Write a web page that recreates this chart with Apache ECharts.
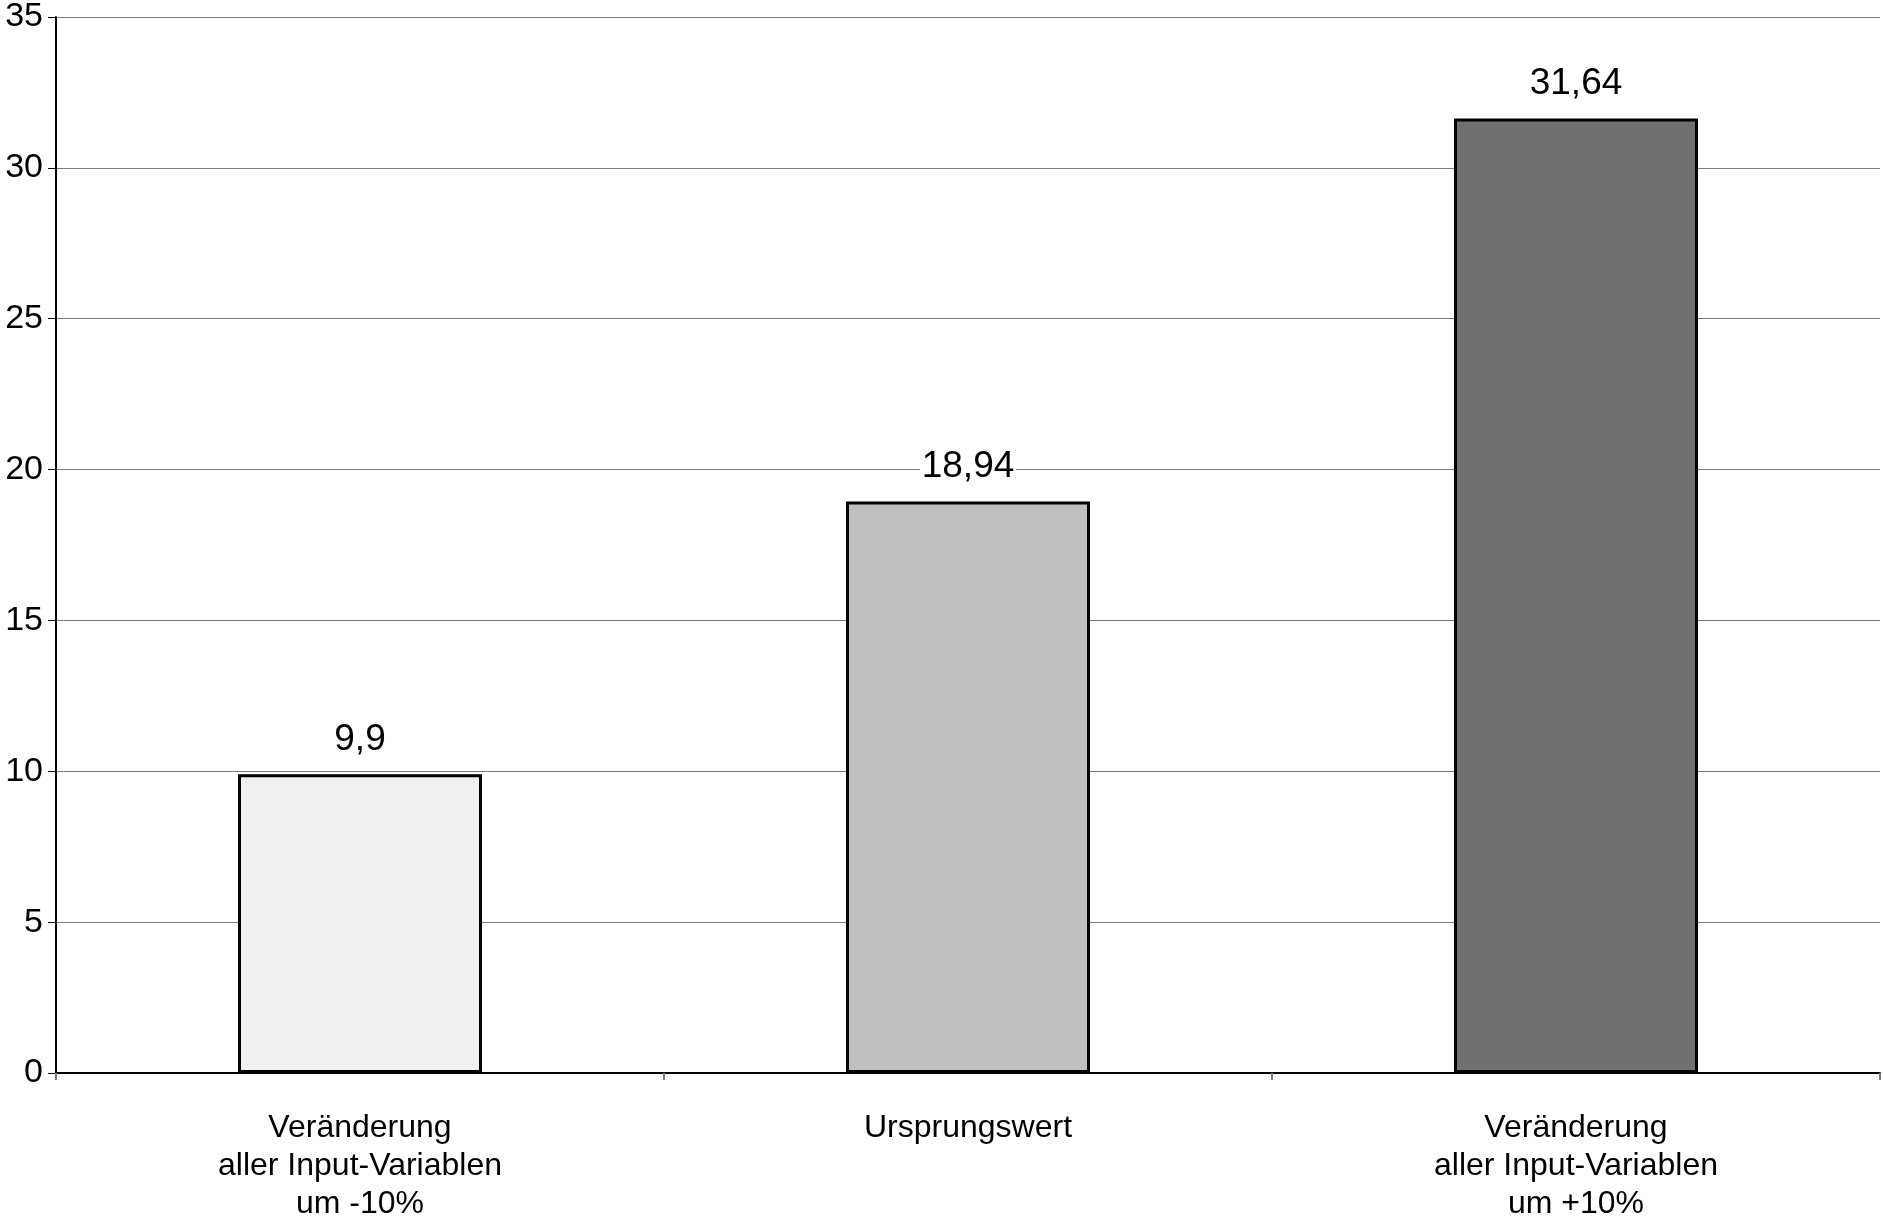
<!DOCTYPE html>
<html>
<head>
<meta charset="utf-8">
<script src="https://cdn.jsdelivr.net/npm/echarts@6/dist/echarts.min.js"></script>
<style>html,body{margin:0;padding:0;background:#fff}#c{width:1883px;height:1224px}</style>
</head>
<body>
<div id="c"></div>
<script>
const categories = ['Veränderung\naller Input-Variablen\num -10%', 'Ursprungswert', 'Veränderung\naller Input-Variablen\num +10%'];
const values = [9.9, 18.94, 31.64];
const barColors = ['#f0f0f0', '#c0c0c0', '#707070'];
const yTicks = [0, 5, 10, 15, 20, 25, 30, 35];

const chart = echarts.init(document.getElementById('c'));
chart.setOption({
  animation: false,
  backgroundColor: '#ffffff',
  textStyle: { fontFamily: 'Liberation Sans, Arial, sans-serif' },
  grid: { left: 56, right: 3, top: 12.5, bottom: 151, containLabel: false },
  xAxis: {
    type: 'category',
    data: categories,
    axisLine: { lineStyle: { color: '#000', width: 2 } },
    axisTick: { show: true, length: 7, lineStyle: { color: '#777', width: 2 } },
    axisLabel: { color: '#000', fontSize: 32, lineHeight: 38, margin: 36, fontFamily: 'Liberation Sans' },
    splitLine: { show: false }
  },
  yAxis: {
    type: 'value',
    min: yTicks[0],
    max: yTicks[yTicks.length - 1],
    interval: 5,
    axisLine: { show: true, lineStyle: { color: '#000', width: 2 } },
    axisTick: { show: true, length: 8, lineStyle: { color: '#000', width: 1 } },
    axisLabel: { color: '#000', fontSize: 34, margin: 13, fontFamily: 'Liberation Sans' },
    splitLine: { show: true, lineStyle: { color: '#7a7a7a', width: 1 } }
  },
  series: [{
    type: 'bar',
    barWidth: 244,
    data: values.map((v, i) => ({ value: v, itemStyle: { color: barColors[i], borderColor: '#000', borderWidth: 3 } })),
    label: {
      show: true,
      position: 'top',
      distance: 16,
      color: '#000',
      fontSize: 37,
      fontFamily: 'Liberation Sans',
      backgroundColor: '#ffffff',
      padding: [0, 2],
      formatter: p => String(p.value).replace('.', ',')
    }
  }]
});
</script>
</body>
</html>
